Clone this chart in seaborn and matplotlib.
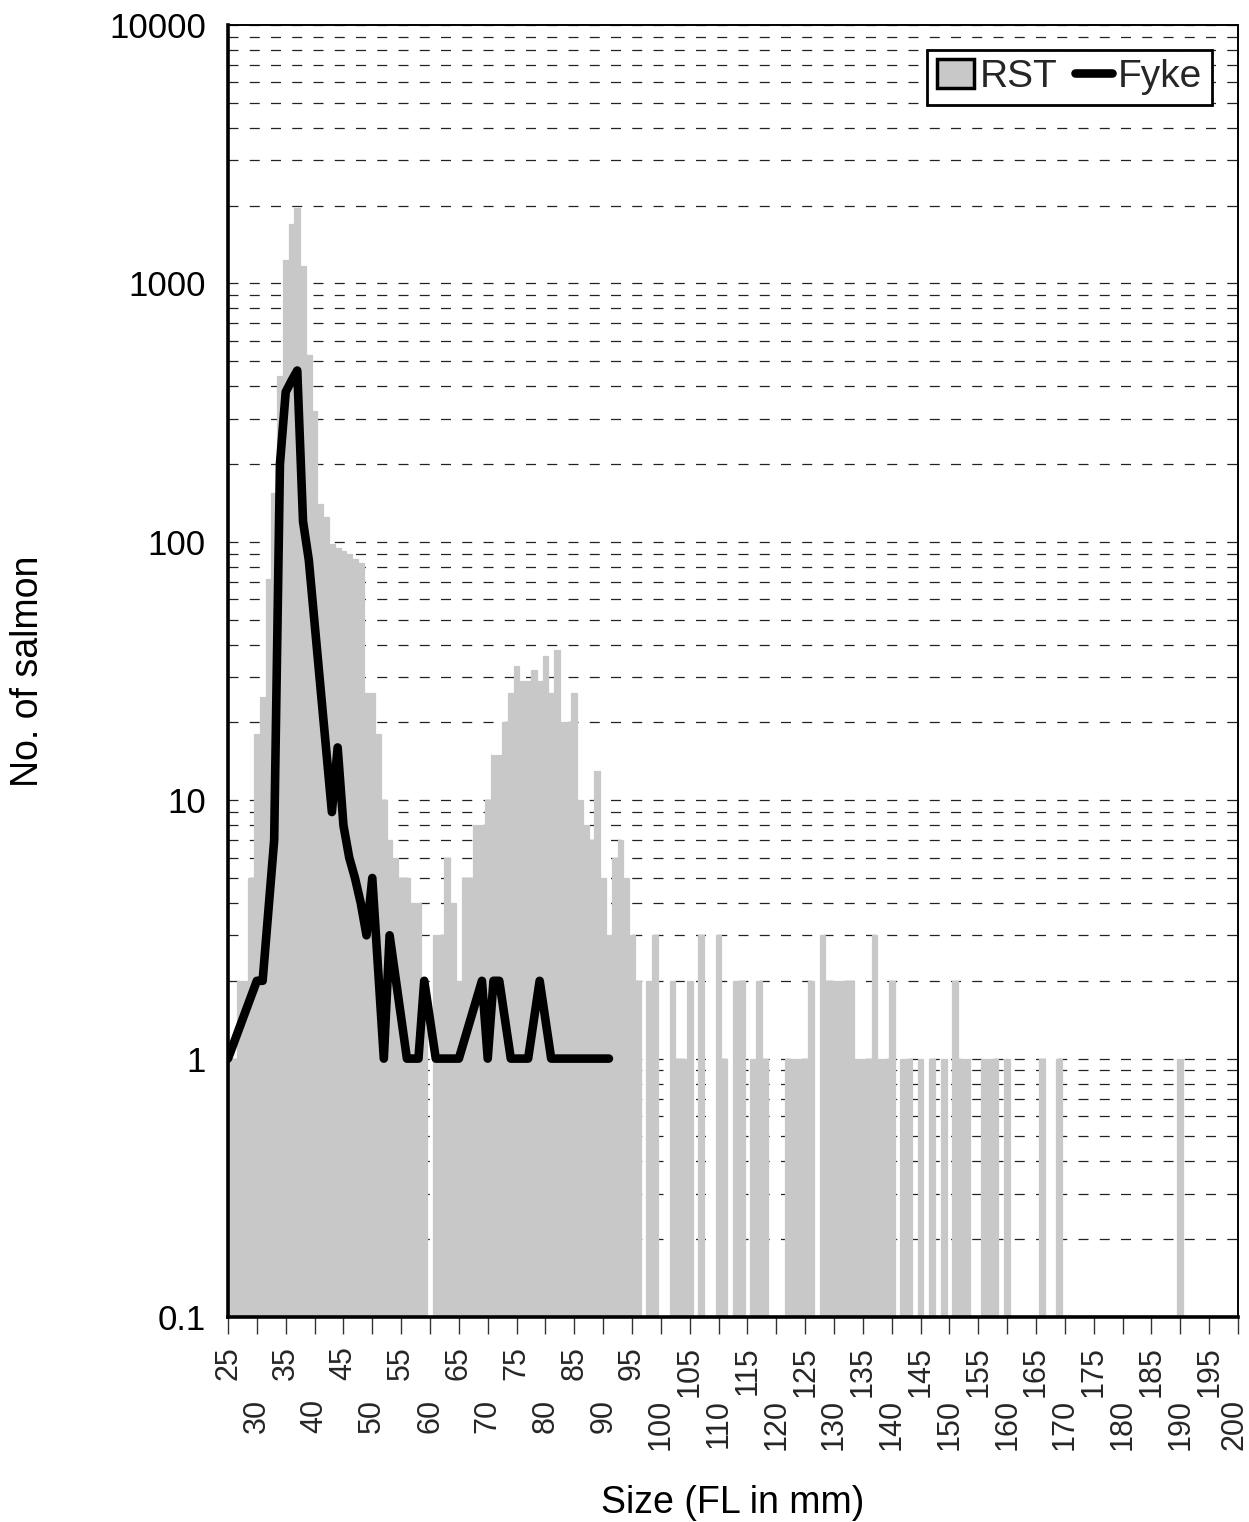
import numpy as np
import pandas as pd
import matplotlib
matplotlib.use("Agg")
import matplotlib.pyplot as plt
import matplotlib.transforms as mtransforms
import seaborn as sns
from matplotlib.patches import Patch
from matplotlib.lines import Line2D
from matplotlib.ticker import FixedLocator, FixedFormatter, LogLocator, NullFormatter

# Fork length classes (mm), 25..200
sizes = list(range(25, 201))

# Rotary screw trap catch per 1-mm class (0 = none caught)
rst_counts = [
    1, 1, 2, 2, 5, 18, 25, 72, 155, 440,          # 25-34
    1230, 1700, 1950, 1170, 530, 320, 140, 125, 98, 95,  # 35-44
    92, 90, 86, 83, 26, 26, 18, 10, 7, 6,         # 45-54
    5, 5, 4, 4, 2, 0, 3, 3, 6, 4,                 # 55-64
    2, 5, 5, 8, 8, 10, 15, 15, 20, 26,            # 65-74
    33, 29, 29, 32, 29, 36, 26, 38, 20, 20,       # 75-84
    26, 10, 8, 7, 13, 5, 3, 6, 7, 5,              # 85-94
    3, 2, 0, 2, 3, 0, 0, 2, 1, 1,                 # 95-104
    2, 0, 3, 0, 0, 3, 1, 0, 2, 2,                 # 105-114
    0, 1, 2, 1, 0, 0, 0, 1, 1, 1,                 # 115-124
    1, 2, 0, 3, 2, 2, 2, 2, 2, 1,                 # 125-134
    1, 1, 3, 1, 1, 2, 0, 1, 1, 0,                 # 135-144
    1, 0, 1, 0, 1, 0, 2, 1, 1, 0,                 # 145-154
    0, 1, 1, 1, 0, 1, 0, 0, 0, 0,                 # 155-164
    0, 1, 0, 0, 1, 0, 0, 0, 0, 0,                 # 165-174
    0, 0, 0, 0, 0, 0, 0, 0, 0, 0,                 # 175-184
    0, 0, 0, 0, 0, 1, 0, 0, 0, 0,                 # 185-194
    0, 0, 0, 0, 0, 0,                             # 195-200
]

# Fyke net catch (only classes with fish; the line joins across empty classes)
fyke_sizes = [25, 30, 31, 33, 34, 35, 36, 37, 38, 39, 43, 44, 45, 46, 47, 48,
              49, 50, 52, 53, 56, 58, 59, 61, 65, 69, 70, 71, 72, 74, 77, 79,
              81, 91]
fyke_counts = [1, 2, 2, 7, 200, 380, 420, 460, 120, 85, 9, 16, 8, 6, 5, 4,
               3, 5, 1, 3, 1, 1, 2, 1, 1, 2, 1, 2, 2, 1, 1, 2,
               1, 1]

# x tick labels: two staggered rows
row1_ticks = list(range(25, 200, 10))   # 25, 35, ... 195
row2_ticks = list(range(30, 201, 10))   # 30, 40, ... 200

y_ticks = [0.1, 1, 10, 100, 1000, 10000]
y_labels = ["0.1", "1", "10", "100", "1000", "10000"]

bar_grey = "#c8c8c8"

sns.set_theme(style="white")
plt.rcParams["font.family"] = ["Liberation Sans", "DejaVu Sans"]

fig = plt.figure(figsize=(12.49, 15.22), dpi=100)
ax = fig.add_axes([228 / 1249, 1 - 1317 / 1522, (1238 - 228) / 1249, (1317 - 25) / 1522])

rst_df = pd.DataFrame({"size": sizes, "count": rst_counts})
rst_df["count"] = rst_df["count"].replace(0, np.nan)

sns.barplot(data=rst_df, x="size", y="count", native_scale=True, width=1.0,
            color=bar_grey, saturation=1, errorbar=None, ax=ax,
            edgecolor=bar_grey, linewidth=0.9, zorder=2)

fyke_df = pd.DataFrame({"size": fyke_sizes, "count": fyke_counts})
sns.lineplot(data=fyke_df, x="size", y="count", color="black", linewidth=6.2,
             ax=ax, zorder=3, solid_capstyle="round", solid_joinstyle="round")

ax.set_yscale("log")
ax.set_ylim(0.1, 10000)
ax.set_xlim(25, 200)

# y axis: decades labelled, dashed grid at every 1..9 subdivision
ax.yaxis.set_major_locator(FixedLocator(y_ticks))
ax.yaxis.set_major_formatter(FixedFormatter(y_labels))
ax.yaxis.set_minor_locator(LogLocator(base=10, subs=np.arange(2, 10)))
ax.yaxis.set_minor_formatter(NullFormatter())
ax.grid(False, axis="x")
ax.grid(True, axis="y", which="both", color="#222222", linestyle=(0, (8, 9)),
        linewidth=0.9, zorder=1)
ax.set_axisbelow(True)
ax.tick_params(axis="y", which="major", length=0, pad=16, labelsize=25, colors="black")
ax.tick_params(axis="y", which="minor", length=0)

# x axis: ticks every 5 mm, labels in two staggered rows
ax.xaxis.set_major_locator(FixedLocator(row1_ticks))
ax.xaxis.set_major_formatter(FixedFormatter([str(v) for v in row1_ticks]))
ax.xaxis.set_minor_locator(FixedLocator(row2_ticks))
ax.xaxis.set_minor_formatter(FixedFormatter([str(v) for v in row2_ticks]))
ax.tick_params(axis="x", which="both", direction="out", length=12, width=1,
               color="#333333", labelsize=22, labelrotation=90, bottom=True)
ax.tick_params(axis="x", which="major", pad=9)
ax.tick_params(axis="x", which="minor", pad=47)
for lab in ax.get_xticklabels(which="both"):
    lab.set_va("top")

# keep the last label ("200") inside the figure edge
fig.canvas.draw()
last = ax.get_xticklabels(which="minor")[-1]
last.set_transform(last.get_transform()
                   + mtransforms.ScaledTranslation(-3 / 100, 0, fig.dpi_scale_trans))

for side in ["left", "bottom"]:
    ax.spines[side].set_linewidth(2.6)
    ax.spines[side].set_color("black")
for side in ["top", "right"]:
    ax.spines[side].set_linewidth(1.4)
    ax.spines[side].set_color("black")
    ax.spines[side].set_visible(True)

ax.set_xlabel("Size (FL in mm)", fontsize=27, color="black")
ax.set_ylabel("No. of salmon", fontsize=27, color="black")
ax.xaxis.set_label_coords(0.5, -0.144)
ax.xaxis.label.set_va("center")
ax.yaxis.set_label_coords(-0.198, 0.5)
ax.yaxis.label.set_va("center")

handles = [Patch(facecolor=bar_grey, edgecolor="black", linewidth=2.5, label="RST"),
           Line2D([0], [0], color="black", linewidth=6.2, label="Fyke")]
leg = ax.legend(handles=handles, loc="upper right", bbox_to_anchor=(0.974, 0.981),
                ncol=2, fontsize=28, frameon=True, fancybox=False, framealpha=1,
                edgecolor="black", handlelength=0.95, handleheight=0.75,
                handletextpad=0.15, columnspacing=0.45, borderpad=0.25,
                borderaxespad=0)
leg.get_frame().set_linewidth(2.0)

fig.savefig("out.png", dpi=100, facecolor="white")
